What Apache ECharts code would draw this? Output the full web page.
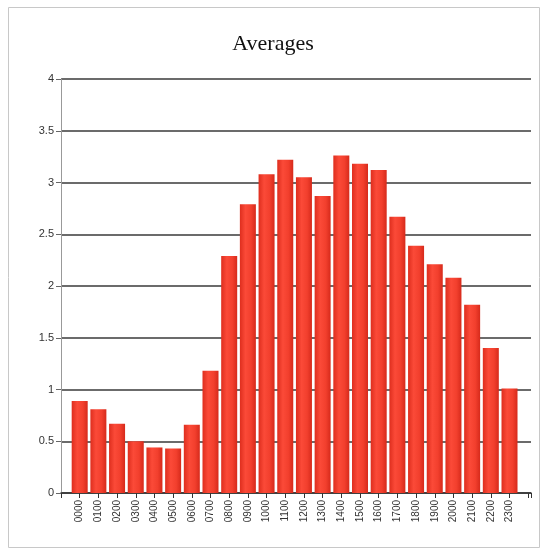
<!DOCTYPE html>
<html>
<head>
<meta charset="utf-8">
<title>Averages</title>
<script src="https://cdn.jsdelivr.net/npm/echarts@6/dist/echarts.min.js"></script>
<style>
  html, body { margin: 0; padding: 0; background: #fff; }
  #chart { width: 546px; height: 550px; }
</style>
</head>
<body>
<div id="chart"></div>
<script>
// hour labels along the bottom
const hours = ['0000', '0100', '0200', '0300', '0400', '0500', '0600', '0700',
  '0800', '0900', '1000', '1100', '1200', '1300', '1400', '1500', '1600', '1700',
  '1800', '1900', '2000', '2100', '2200', '2300']

// average per hour
const averages = [0.89, 0.81, 0.67, 0.50, 0.44, 0.43, 0.66, 1.18,
  2.29, 2.79, 3.08, 3.22, 3.05, 2.87, 3.26, 3.18, 3.12, 2.67,
  2.39, 2.21, 2.08, 1.82, 1.40, 1.01]

const yTicks = [0, 0.5, 1, 1.5, 2, 2.5, 3, 3.5, 4]

const chart = echarts.init(document.getElementById('chart'))

// bars sit on integer positions, axis has a little room on both sides
const barData = averages.map((v, i) => [i, v])

const barColor = new echarts.graphic.LinearGradient(0, 0, 1, 0, [
  { offset: 0, color: '#de2e1e' },
  { offset: 0.35, color: '#fb4a38' },
  { offset: 0.7, color: '#f23f2d' },
  { offset: 1, color: '#d62a1b' }
])

const option = {
  backgroundColor: '#fff',
  animation: false,
  title: {
    text: 'Averages',
    left: 'center',
    top: 28,
    textStyle: {
      fontFamily: 'Liberation Serif',
      fontSize: 22,
      fontWeight: 'normal',
      color: '#111'
    }
  },
  graphic: [{
    type: 'rect',
    shape: { x: 8.5, y: 7.5, width: 531, height: 540 },
    style: { fill: 'none', stroke: '#c8c8c8', lineWidth: 1 },
    z: -1
  }],
  grid: {
    left: 61,
    right: 15,
    top: 79,
    bottom: 57
  },
  xAxis: {
    type: 'value',
    min: -1,
    max: 24.15,
    interval: 1,
    axisLine: { show: true, onZero: false, lineStyle: { color: '#333', width: 1.5 } },
    axisTick: { show: true, length: 5, lineStyle: { color: '#333' } },
    splitLine: { show: false },
    axisLabel: {
      rotate: 90,
      margin: 7,
      fontFamily: 'Liberation Sans',
      fontSize: 10,
      color: '#333',
      showMinLabel: true,
      showMaxLabel: true,
      formatter: (v) => hours[v] || ''
    }
  },
  yAxis: {
    type: 'value',
    min: yTicks[0],
    max: yTicks[yTicks.length - 1],
    interval: 0.5,
    axisLine: { show: true, onZero: false, lineStyle: { color: '#999', width: 1 } },
    axisTick: { show: true, length: 5, lineStyle: { color: '#666' } },
    splitLine: { show: true, lineStyle: { color: '#3a3a3a', width: 1.5 } },
    axisLabel: {
      margin: 7,
      fontFamily: 'Liberation Sans',
      fontSize: 11,
      color: '#333'
    }
  },
  series: [{
    name: 'Averages',
    type: 'bar',
    data: barData,
    barWidth: 16,
    itemStyle: { color: barColor }
  }]
}

chart.setOption(option)
</script>
</body>
</html>
